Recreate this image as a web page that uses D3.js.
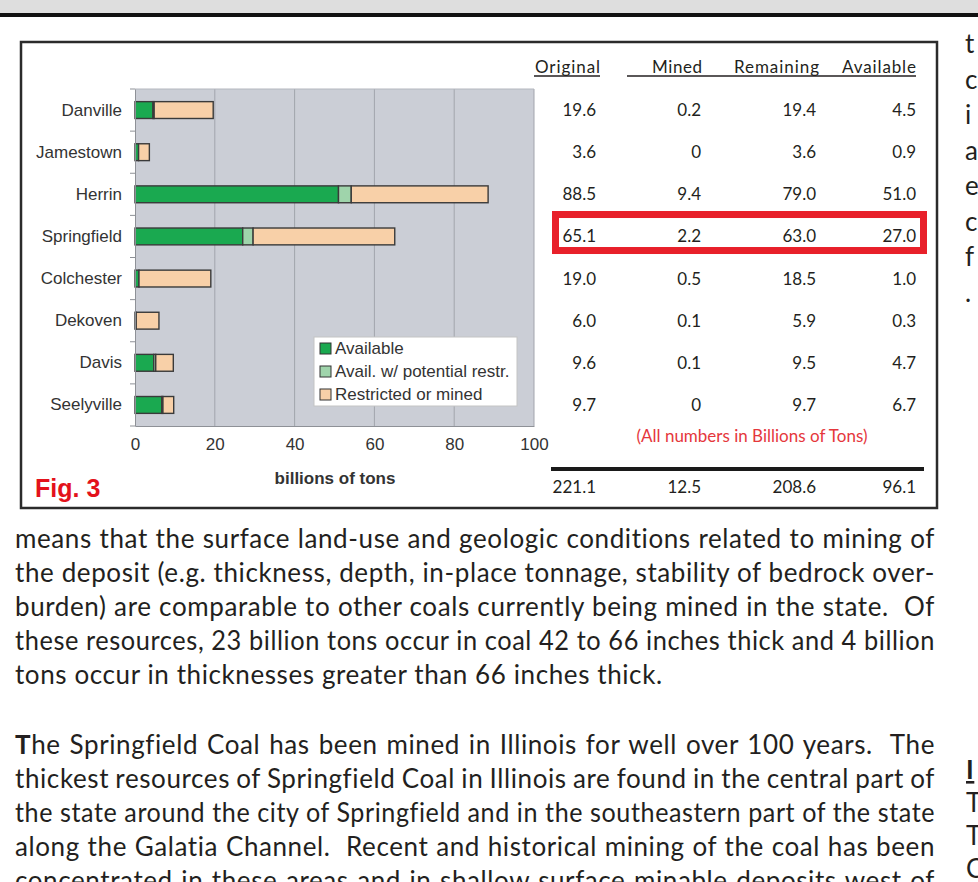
<!DOCTYPE html>
<html>
<head>
<script src="https://cdnjs.cloudflare.com/ajax/libs/d3/7.8.5/d3.min.js"></script>
<title>Fig. 3 coal resources</title>
<style>
  html, body { margin: 0; background: #fff; }
  svg { display: block; }
  .body-text { font-family: Lato, "Open Sans", sans-serif; font-size: 26px; letter-spacing: 0.6px; fill: #231f20; }
  .tbl { font-family: Lato, "Open Sans", sans-serif; font-size: 17px; fill: #231f20; }
  .chart-text { font-family: "Liberation Sans", Arial, sans-serif; font-size: 17px; fill: #333; }
</style>
</head>
<body>
<script>
// coal names, top to bottom
var sites = ["Danville", "Jamestown", "Herrin", "Springfield", "Colchester", "Dekoven", "Davis", "Seelyville"];

// bar segments (billions of tons)
var availableBar = [4.5, 0.9, 51.0, 27.0, 1.0, 0.3, 4.7, 6.7];
var potentialBar = [0.3, 0, 3.2, 2.6, 0, 0, 0.5, 0.3];
var restrictedBar = [14.8, 2.7, 34.3, 35.5, 18.0, 5.7, 4.4, 2.7];

// table columns
var colNames = ["Original", "Mined", "Remaining", "Available"];
var original = ["19.6", "3.6", "88.5", "65.1", "19.0", "6.0", "9.6", "9.7"];
var mined = ["0.2", "0", "9.4", "2.2", "0.5", "0.1", "0.1", "0"];
var remaining = ["19.4", "3.6", "79.0", "63.0", "18.5", "5.9", "9.5", "9.7"];
var available = ["4.5", "0.9", "51.0", "27.0", "1.0", "0.3", "4.7", "6.7"];
var totals = ["221.1", "12.5", "208.6", "96.1"];

var xTicks = [0, 20, 40, 60, 80, 100];
var legendLabels = ["Available", "Avail. w/ potential restr.", "Restricted or mined"];
var colors = ["#1aa950", "#9fd4ab", "#f8d0a8"];

var para1 = [
  "means that the surface land-use and geologic conditions related to mining of",
  "the deposit (e.g. thickness, depth, in-place tonnage, stability of bedrock over-",
  "burden) are comparable to other coals currently being mined in the state.  Of",
  "these resources, 23 billion tons occur in coal 42 to 66 inches thick and 4 billion",
  "tons occur in thicknesses greater than 66 inches thick."
];
var para2 = [
  "The Springfield Coal has been mined in Illinois for well over 100 years.  The",
  "thickest resources of Springfield Coal in Illinois are found in the central part of",
  "the state around the city of Springfield and in the southeastern part of the state",
  "along the Galatia Channel.  Recent and historical mining of the coal has been",
  "concentrated in these areas and in shallow surface minable deposits west of"
];
var sideTop = ["t", "c", "i", "a", "e", "c", "f", "."];
var sideBottom = ["I", "T", "T", "C"];

var svg = d3.select("body").append("svg")
    .attr("width", 978)
    .attr("height", 882);

// page header band
svg.append("rect").attr("x", 0).attr("y", 0).attr("width", 978).attr("height", 13).attr("fill", "#dedede");
svg.append("rect").attr("x", 0).attr("y", 13).attr("width", 978).attr("height", 4).attr("fill", "#111");

// figure frame
svg.append("rect")
    .attr("x", 21).attr("y", 42).attr("width", 916).attr("height", 466)
    .attr("fill", "#fff").attr("stroke", "#2b2b2b").attr("stroke-width", 2.5);

// ---- bar chart ----
var x = d3.scaleLinear().domain([0, 100]).range([135, 534]);
var y = d3.scaleBand().domain(sites).range([89, 426]).paddingInner(0.6).paddingOuter(0.3);

var chart = svg.append("g");

chart.append("rect")
    .attr("x", x(0)).attr("y", 89)
    .attr("width", x(100) - x(0)).attr("height", 426 - 89)
    .attr("fill", "#cbced6");

chart.selectAll(".grid")
    .data(xTicks.slice(1))
    .enter().append("line")
    .attr("class", "grid")
    .attr("x1", function(d) { return x(d); })
    .attr("x2", function(d) { return x(d); })
    .attr("y1", 89).attr("y2", 426)
    .attr("stroke", "#a2a5ad").attr("stroke-width", 1);

// top edge of plot
chart.append("line")
    .attr("x1", x(0)).attr("x2", x(100)).attr("y1", 89).attr("y2", 89)
    .attr("stroke", "#b4b7be");

var rows = sites.map(function(s, i) {
    return { site: s, a: availableBar[i], p: potentialBar[i], r: restrictedBar[i] };
});
var stack = d3.stack().keys(["a", "p", "r"])(rows);

chart.selectAll(".layer")
    .data(stack)
    .enter().append("g")
    .attr("fill", function(d, i) { return colors[i]; })
    .selectAll("rect")
    .data(function(d) { return d; })
    .enter().append("rect")
    .attr("x", function(d) { return x(d[0]); })
    .attr("y", function(d) { return y(d.data.site); })
    .attr("width", function(d) { return x(d[1]) - x(d[0]); })
    .attr("height", y.bandwidth())
    .attr("stroke", "#3a3a3a")
    .attr("stroke-width", 1.4);

// left axis: labels at band centres, ticks at band edges
var yAxis = chart.append("g")
    .attr("transform", "translate(" + x(0) + ",0)")
    .call(d3.axisLeft(y).tickSize(0).tickPadding(13));
yAxis.select(".domain").attr("stroke", "#8e9197");
yAxis.selectAll("text").attr("class", "chart-text").attr("font-size", null).attr("font-family", null);

var edges = sites.map(function(s) { return y(s) - (y.step() - y.bandwidth()) / 2; });
edges.push(426);
chart.selectAll(".ytick")
    .data(edges)
    .enter().append("line")
    .attr("x1", x(0) - 5).attr("x2", x(0))
    .attr("y1", function(d) { return d; })
    .attr("y2", function(d) { return d; })
    .attr("stroke", "#8e9197");

var xAxis = chart.append("g")
    .attr("transform", "translate(0,426)")
    .call(d3.axisBottom(x).tickValues(xTicks).tickSize(0).tickPadding(12));
xAxis.select(".domain").attr("stroke", "#8e9197");
xAxis.selectAll("text").attr("class", "chart-text").attr("font-size", null).attr("font-family", null);

chart.append("text")
    .attr("class", "chart-text")
    .attr("x", 335).attr("y", 484)
    .attr("text-anchor", "middle")
    .attr("font-weight", "bold")
    .text("billions of tons");

svg.append("text")
    .attr("x", 35).attr("y", 497)
    .attr("font-family", "'Liberation Sans', Arial, sans-serif")
    .attr("font-size", 25).attr("font-weight", "bold")
    .attr("fill", "#e3121b")
    .text("Fig. 3");

// legend
var legend = chart.append("g").attr("transform", "translate(314,337)");
legend.append("rect")
    .attr("width", 203).attr("height", 69)
    .attr("fill", "#fff").attr("stroke", "#c4c4c4");
var li = legend.selectAll(".item")
    .data(legendLabels)
    .enter().append("g")
    .attr("transform", function(d, i) { return "translate(6," + (6 + i * 23) + ")"; });
li.append("rect")
    .attr("width", 11).attr("height", 11)
    .attr("fill", function(d, i) { return colors[i]; })
    .attr("stroke", "#333");
li.append("text")
    .attr("class", "chart-text")
    .attr("x", 15).attr("y", 11)
    .text(function(d) { return d; });

// ---- table ----
var colEnds = [596, 701, 816, 916];
var headEnds = [600, 702, 819, 916];
var headWidths = [65, 50, 85, 74];
var table = svg.append("g");

table.selectAll(".head")
    .data(colNames)
    .enter().append("text")
    .attr("class", "tbl")
    .attr("x", function(d, i) { return headEnds[i] - headWidths[i]; })
    .attr("y", 73)
    .attr("textLength", function(d, i) { return headWidths[i]; })
    .attr("lengthAdjust", "spacing")
    .text(function(d) { return d; });
table.append("line").attr("x1", 534).attr("x2", 600).attr("y1", 76).attr("y2", 76)
    .attr("stroke", "#231f20").attr("stroke-width", 1.3);
table.append("line").attr("x1", 627).attr("x2", 916).attr("y1", 76).attr("y2", 76)
    .attr("stroke", "#231f20").attr("stroke-width", 1.3);

var columns = [original, mined, remaining, available];
columns.forEach(function(col, c) {
    table.selectAll(".c" + c)
        .data(col)
        .enter().append("text")
        .attr("class", "tbl")
        .attr("x", colEnds[c])
        .attr("y", function(d, i) { return y(sites[i]) + y.bandwidth() / 2 + 6; })
        .attr("text-anchor", "end")
        .text(function(d) { return d; });
});

// highlight Springfield row
table.append("rect")
    .attr("x", 555.5).attr("y", y("Springfield") - 13.5)
    .attr("width", 368).attr("height", 36)
    .attr("fill", "none").attr("stroke", "#e8202a").attr("stroke-width", 7);

table.append("text")
    .attr("class", "tbl")
    .attr("x", 752).attr("y", 442)
    .attr("text-anchor", "middle")
    .style("fill", "#e5373c")
    .text("(All numbers in Billions of Tons)");

table.append("rect")
    .attr("x", 551).attr("y", 467).attr("width", 373).attr("height", 4)
    .attr("fill", "#1a1a1a");

table.selectAll(".tot")
    .data(totals)
    .enter().append("text")
    .attr("class", "tbl")
    .attr("x", function(d, i) { return colEnds[i]; })
    .attr("y", 493)
    .attr("text-anchor", "end")
    .text(function(d) { return d; });

// ---- body text ----
function paragraph(lines, top, lastRagged) {
    lines.forEach(function(line, i) {
        var t = svg.append("text")
            .attr("class", "body-text")
            .attr("x", 15)
            .attr("y", top + i * 34)
            .attr("xml:space", "preserve");
        if (top > 700 && i === 0) {
            t.append("tspan").attr("font-weight", "bold").text(line.charAt(0));
            t.append("tspan").text(line.slice(1));
        } else {
            t.text(line);
        }
        if (lastRagged && i === lines.length - 1) return;
        var w = t.node().getComputedTextLength();
        var spaces = (line.match(/ /g) || []).length;
        var extra = (920 - w) / spaces;
        if (extra >= -1.5) {
            t.attr("word-spacing", extra);
        } else {
            t.attr("textLength", 920).attr("lengthAdjust", "spacingAndGlyphs");
        }
    });
}
paragraph(para1, 548, true);
paragraph(para2, 754, false);

// next column, cut off at the page edge
svg.selectAll(".sideTop")
    .data(sideTop)
    .enter().append("text")
    .attr("class", "body-text")
    .attr("x", 965)
    .attr("y", function(d, i) { return 53 + i * 35.5; })
    .text(function(d) { return d; });

svg.selectAll(".sideBottom")
    .data(sideBottom)
    .enter().append("text")
    .attr("class", "body-text")
    .attr("x", 966)
    .attr("y", function(d, i) { return 779 + i * 33; })
    .attr("font-weight", function(d, i) { return i === 0 ? "bold" : null; })
    .attr("text-decoration", function(d, i) { return i === 0 ? "underline" : null; })
    .text(function(d) { return d; });
</script>
</body>
</html>
